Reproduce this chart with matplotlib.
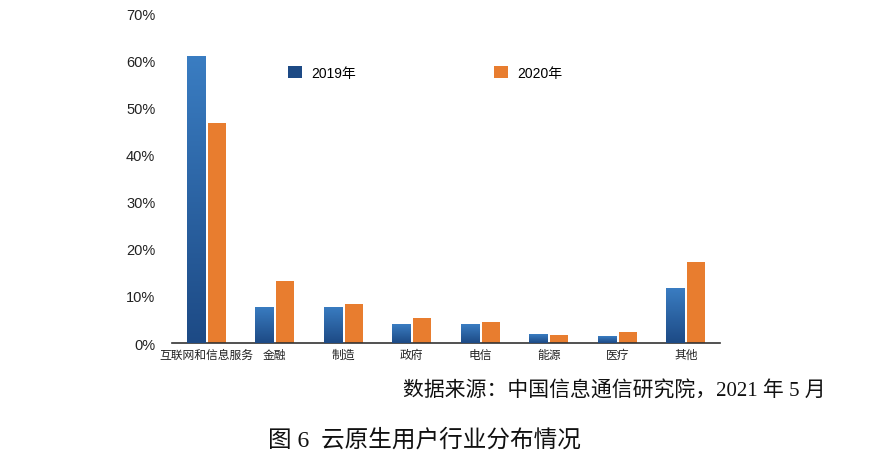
import numpy as np
import matplotlib.pyplot as plt
from matplotlib.colors import LinearSegmentedColormap
from matplotlib.patches import Patch

plt.rcParams['font.family'] = ['Liberation Sans', 'Noto Sans CJK SC']

# data (share of cloud-native users, %)
categories = ['互联网和信息服务', '金融', '制造', '政府', '电信', '能源', '医疗', '其他']
y2019 = [61.0, 7.7, 7.7, 4.0, 4.0, 1.9, 1.4, 11.6]
y2020 = [46.8, 13.2, 8.2, 5.3, 4.4, 1.6, 2.3, 17.2]
yticks = [0, 10, 20, 30, 40, 50, 60, 70]

blue_top = '#3a7dc2'
blue_bot = '#1d4a85'
orange = '#e87d2f'

fig = plt.figure(figsize=(8.86, 4.64), dpi=100)
ax = fig.add_axes([172 / 886, 1 - 344 / 464, 548 / 886, 329 / 464])

x = np.arange(len(categories))
w = 0.265
gap = 0.022
b1 = ax.bar(x - w / 2 - gap, y2019, w, color=blue_top, zorder=2)
b2 = ax.bar(x + w / 2 + gap, y2020, w, color=orange, zorder=2)

# vertical gradient on the blue bars
cmap = LinearSegmentedColormap.from_list('bl', [blue_bot, blue_top])
grad = np.linspace(0, 1, 256).reshape(-1, 1)
for r in b1:
    x0, h, bw = r.get_x(), r.get_height(), r.get_width()
    im = ax.imshow(grad, cmap=cmap, origin='lower', aspect='auto',
                   extent=(x0, x0 + bw, 0, h), zorder=3)
    im.set_clip_path(r)
    r.set_facecolor('none')

ax.set_xlim(-0.5, len(categories) - 0.5)
ax.set_ylim(0, 70)
ax.set_yticks(yticks)
ax.set_yticklabels([f'{t}%' for t in yticks], fontsize=10.5, color='#222222')
ax.set_xticks(x)
ax.set_xticklabels(categories, fontsize=8.5, color='#222222')
ax.tick_params(length=0)
ax.tick_params(axis='y', pad=12)
ax.tick_params(axis='x', pad=4)
for s in ['left', 'right', 'top']:
    ax.spines[s].set_visible(False)
ax.spines['bottom'].set_color('#333333')
ax.spines['bottom'].set_linewidth(1.2)

handles = [Patch(facecolor=blue_bot, edgecolor='none'),
           Patch(facecolor=orange, edgecolor='none')]
ax.legend(handles, ['2019年', '2020年'], loc='upper left', ncol=2,
          bbox_to_anchor=(0.189, 0.88), frameon=False, fontsize=10,
          handlelength=1.0, handleheight=1.0, columnspacing=9.9,
          handletextpad=0.7)

cap_font = ['Liberation Serif', 'Noto Sans CJK SC']
fig.text(826 / 886, 1 - 392 / 464, '数据来源：中国信息通信研究院，2021 年 5 月',
         ha='right', va='center', fontsize=15, family=cap_font, color='#111111')
fig.text(268 / 886, 1 - 440 / 464, '图 6  云原生用户行业分布情况',
         ha='left', va='center', fontsize=17, family=cap_font, color='#111111')

fig.savefig('out.png', dpi=100)
